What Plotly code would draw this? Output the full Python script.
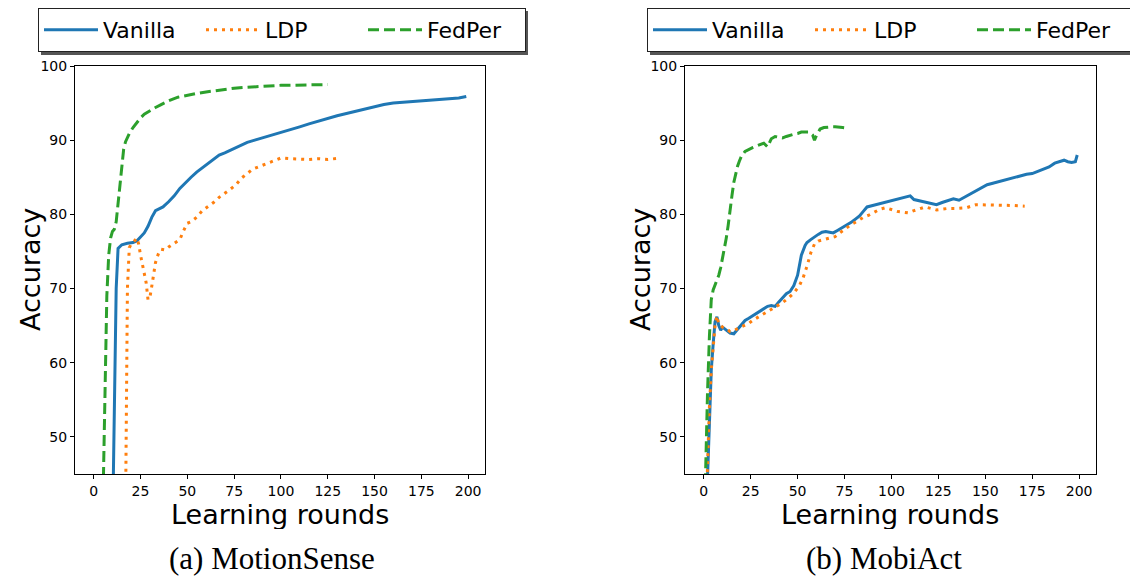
import plotly.graph_objects as go

W, H = 1130, 576

# ---- (a) MotionSense ----
ms_vanilla_x = [0, 5, 9, 10, 11, 12, 13, 15, 18, 21, 23, 25, 27, 29, 31, 33, 35, 37, 40, 43, 46, 49, 52,
                55, 58, 61, 64, 67, 70, 74, 78, 82, 86, 90, 94, 98, 102, 106, 110, 115, 120, 125, 130,
                135, 140, 145, 150, 155, 160, 165, 170, 175, 180, 185, 190, 195, 199]
ms_vanilla_y = [12, 14, 20, 38, 55, 70, 75.4, 75.9, 76.1, 76.2, 76.4, 76.9, 77.5, 78.4, 79.6, 80.5, 80.8,
                81.0, 81.7, 82.5, 83.5, 84.3, 85.0, 85.7, 86.3, 86.9, 87.5, 88.0, 88.3, 88.8, 89.2, 89.7,
                90.0, 90.3, 90.5, 90.8, 91.2, 91.5, 91.8, 92.2, 92.6, 93.0, 93.3, 93.6, 93.9, 94.3, 94.5,
                94.8, 95.0, 95.1, 95.2, 95.3, 95.4, 95.5, 95.6, 95.7, 95.9]

ms_ldp_x = [0, 10, 16, 17, 18, 19, 20, 21, 22, 23, 24, 25, 26, 27, 28, 29, 30, 31, 32, 33, 34, 35, 36,
            38, 40, 42, 44, 46, 48, 50, 52, 55, 58, 61, 64, 67, 70, 73, 76, 79, 82, 85, 88, 92, 96,
            100, 105, 110, 115, 120, 125, 132]
ms_ldp_y = [10, 12, 20, 40, 70, 75.5, 76.0, 76.2, 76.5, 76.8, 76.0, 74.5, 73.2, 72.2, 70.8, 68.5, 68.8,
            70.3, 72.0, 73.5, 74.3, 75.0, 75.3, 75.2, 75.6, 75.9, 76.3, 76.6, 77.8, 78.8, 79.0, 79.6,
            80.5, 81.0, 81.6, 82.3, 82.8, 83.4, 84.0, 84.9, 85.5, 86.1, 86.4, 86.8, 87.1, 87.6, 87.5,
            87.4, 87.4, 87.5, 87.4, 87.6]

ms_fedper_x = [0, 4, 5, 6, 7, 8, 9, 10, 11, 12, 13, 14, 15, 16, 17, 19, 21, 23, 25, 27, 30, 33, 36, 40,
               45, 50, 55, 60, 65, 70, 75, 80, 85, 90, 95, 100, 105, 110, 115, 120, 125]
ms_fedper_y = [10, 20, 42, 57, 69, 74.5, 76.8, 77.7, 78.0, 79.0, 81.5, 84.5, 87.0, 88.8, 89.8, 90.9,
               91.7, 92.4, 93.0, 93.5, 94.0, 94.4, 94.8, 95.3, 95.8, 96.1, 96.3, 96.5, 96.7, 96.9, 97.0,
               97.1, 97.2, 97.3, 97.4, 97.4, 97.4, 97.4, 97.5, 97.5, 97.5]

# ---- (b) MobiAct ----
ma_vanilla_x = [0, 1, 2, 3, 4, 5, 6, 7, 8, 9, 10, 12, 14, 16, 18, 20, 22, 24, 26, 28, 30, 32, 34, 36, 38,
                40, 42, 44, 46, 48, 50, 52, 54, 55, 57, 59, 61, 63, 65, 67, 69, 71, 73, 75, 77, 79, 81,
                83, 85, 87, 90, 93, 96, 99, 102, 105, 108, 110, 112, 115, 118, 121, 124, 127, 130, 133,
                136, 139, 142, 145, 148, 151, 154, 157, 160, 163, 166, 169, 172, 175, 178, 181, 184,
                187, 190, 192, 194, 196, 198, 199]
ma_vanilla_y = [30, 38, 46, 54, 59, 62.5, 65.5, 66.2, 65.0, 64.4, 64.8, 64.4, 64.0, 63.9, 64.5, 65.2,
                65.7, 66.0, 66.3, 66.7, 66.9, 67.3, 67.6, 67.7, 67.6, 68.2, 68.8, 69.3, 69.6, 70.4, 71.8,
                74.5, 75.8, 76.2, 76.6, 77.0, 77.3, 77.6, 77.7, 77.6, 77.5, 77.8, 78.1, 78.3, 78.7, 79.0,
                79.4, 79.8, 80.4, 81.0, 81.2, 81.4, 81.5, 81.7, 81.9, 82.2, 82.4, 82.5, 82.0, 81.8, 81.6,
                81.4, 81.3, 81.6, 81.9, 82.1, 81.9, 82.3, 82.8, 83.2, 83.6, 84.0, 84.2, 84.4, 84.5, 84.7,
                85.0, 85.2, 85.4, 85.5, 85.8, 86.1, 86.4, 86.9, 87.2, 87.3, 87.1, 87.0, 87.1, 88.0]

ma_ldp_x = [0, 1, 2, 3, 4, 5, 6, 7, 8, 10, 12, 14, 16, 18, 20, 22, 24, 26, 28, 30, 33, 36, 39, 42, 45,
            48, 51, 53, 55, 57, 59, 61, 64, 67, 70, 73, 76, 79, 82, 85, 88, 91, 94, 97, 100, 103, 106,
            109, 112, 115, 118, 121, 124, 127, 130, 135, 140, 145, 150, 155, 160, 165, 171]
ma_ldp_y = [28, 38, 46, 54, 59, 62, 65, 66.3, 65.2, 64.8, 64.6, 64.2, 64.3, 64.6, 64.8, 65.0, 65.3, 65.7,
            66.0, 66.3, 66.8, 67.2, 67.6, 68.1, 68.7, 69.4, 70.4, 71.5, 73.0, 74.8, 76.0, 76.4, 76.6,
            76.8, 77.0, 77.6, 78.2, 78.7, 79.1, 79.6, 79.9, 80.3, 80.7, 80.9, 80.6, 80.4, 80.3, 80.2,
            80.5, 80.8, 81.0, 80.8, 80.6, 80.7, 80.8, 80.8, 80.9, 81.3, 81.3, 81.3, 81.3, 81.2, 81.1]

ma_fedper_x = [0, 1, 2, 3, 4, 5, 6, 7, 8, 9, 10, 11, 12, 13, 14, 15, 16, 17, 18, 19, 20, 22, 24, 26, 28,
               30, 32, 34, 36, 38, 40, 42, 44, 46, 48, 50, 52, 54, 56, 58, 59, 60, 62, 64, 66, 68, 70,
               72, 74, 77]
ma_fedper_y = [35, 46, 56, 63.5, 68.5, 69.8, 70.5, 71.0, 71.8, 72.8, 74.0, 75.2, 76.8, 78.5, 80.2, 82.5,
               84.3, 85.5, 86.5, 87.2, 87.8, 88.5, 88.8, 89.0, 89.2, 89.4, 89.6, 89.1, 90.2, 90.5, 90.4,
               90.3, 90.5, 90.7, 90.8, 90.9, 91.1, 91.1, 91.1, 90.7, 90.0, 90.6, 91.5, 91.7, 91.8, 91.8,
               91.8, 91.7, 91.7, 91.6]

names = ["Vanilla", "LDP", "FedPer"]
colors = ["#1f77b4", "#ff7f0e", "#2ca02c"]
dashes = ["solid", "3px,5px", "11px,5px"]
captions = ["(a) MotionSense", "(b) MobiAct"]

panels = [
    ("x", "y", "legend", [(ms_vanilla_x, ms_vanilla_y), (ms_ldp_x, ms_ldp_y), (ms_fedper_x, ms_fedper_y)]),
    ("x2", "y2", "legend2", [(ma_vanilla_x, ma_vanilla_y), (ma_ldp_x, ma_ldp_y), (ma_fedper_x, ma_fedper_y)]),
]

fig = go.Figure()
for xa, ya, leg, series in panels:
    for name, color, dash, (xs, ys) in zip(names, colors, dashes, series):
        fig.add_trace(go.Scatter(
            x=xs, y=ys, mode="lines", name=name, xaxis=xa, yaxis=ya, legend=leg,
            line=dict(color=color, width=3, dash=dash),
        ))


def px_x(p):
    return p / W


def px_y(p):
    return 1 - p / H


axis_common = dict(
    showline=True, mirror=True, linecolor="black", linewidth=1,
    ticks="outside", ticklen=4, tickwidth=1, tickcolor="black",
    showgrid=False, zeroline=False,
    tickfont=dict(family="DejaVu Sans", size=14, color="black"),
)
x_common = dict(axis_common, range=[-10, 209], tickvals=list(range(0, 201, 25)))
y_common = dict(axis_common, range=[45, 100], tickvals=list(range(50, 101, 10)))

legend_common = dict(
    orientation="h", xanchor="left", yanchor="top", y=px_y(8),
    bgcolor="white", bordercolor="#222", borderwidth=1,
    font=dict(family="DejaVu Sans", size=22, color="black"),
    itemwidth=54, entrywidth=93,
)

fig.update_layout(
    width=W, height=H,
    margin=dict(l=0, r=0, t=0, b=0, autoexpand=False),
    paper_bgcolor="white", plot_bgcolor="white",
    xaxis=dict(x_common, domain=[px_x(75), px_x(485)], anchor="y"),
    yaxis=dict(y_common, domain=[px_y(474), px_y(66)], anchor="x"),
    xaxis2=dict(x_common, domain=[px_x(685), px_x(1096)], anchor="y2"),
    yaxis2=dict(y_common, domain=[px_y(474), px_y(66)], anchor="x2"),
    legend=dict(legend_common, x=px_x(38)),
    legend2=dict(legend_common, x=px_x(647)),
)

title_font = dict(family="DejaVu Sans", size=27, color="black")
for cx in (280, 890):
    fig.add_annotation(text="Learning rounds", x=px_x(cx), y=px_y(514), xref="paper", yref="paper",
                       showarrow=False, xanchor="center", yanchor="middle", height=30, font=title_font)
for cx in (30, 640):
    fig.add_annotation(text="Accuracy", x=px_x(cx), y=px_y(270), xref="paper", yref="paper",
                       showarrow=False, xanchor="center", yanchor="middle", textangle=-90, font=title_font)

# legend shadows (matplotlib style)
for x0 in (38, 647):
    fig.add_shape(type="rect", xref="paper", yref="paper",
                  x0=px_x(x0 + 3), x1=px_x(x0 + 490), y0=px_y(55), y1=px_y(11),
                  fillcolor="#555", line=dict(width=0), layer="above")

for cx, text in zip((272, 884), captions):
    fig.add_annotation(text=text, x=px_x(cx), y=px_y(558), xref="paper", yref="paper",
                       showarrow=False, xanchor="center", yanchor="middle",
                       font=dict(family="Liberation Serif", size=31, color="black"))

fig.write_html("out.html", config={"displayModeBar": False},
               post_script="document.body.style.margin='0';")
